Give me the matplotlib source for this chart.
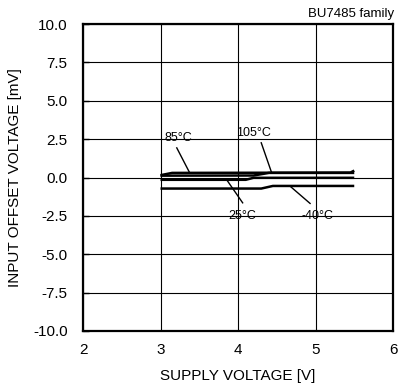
import matplotlib
matplotlib.use("Agg")
import matplotlib.pyplot as plt

plt.rcParams["font.family"] = ["Liberation Sans", "DejaVu Sans"]

# offset voltage vs supply voltage, one curve per temperature
vdd_85 = [3.0, 3.15, 5.45, 5.5]
vio_85 = [0.15, 0.30, 0.32, 0.45]
vdd_105 = [3.0, 4.2, 4.4, 5.5]
vio_105 = [0.12, 0.13, 0.30, 0.30]
vdd_25 = [3.0, 4.1, 4.2, 5.5]
vio_25 = [-0.15, -0.15, -0.02, -0.02]
vdd_m40 = [3.0, 4.3, 4.45, 5.5]
vio_m40 = [-0.72, -0.72, -0.55, -0.55]

xticks = [2, 3, 4, 5, 6]
yticks = [-10.0, -7.5, -5.0, -2.5, 0.0, 2.5, 5.0, 7.5, 10.0]

fig = plt.figure(figsize=(3.98, 3.89), dpi=100)
ax = fig.add_axes([83 / 398, 1 - 331 / 389, 310 / 398, 307 / 389])

for x, y in [(vdd_85, vio_85), (vdd_105, vio_105), (vdd_25, vio_25), (vdd_m40, vio_m40)]:
    ax.plot(x, y, color="black", lw=1.8, solid_capstyle="butt", zorder=3)

ax.set_xlim(2, 6)
ax.set_ylim(-10, 10)
ax.set_xticks(xticks)
ax.set_yticks(yticks)
ax.set_yticklabels([f"{v:.1f}" for v in yticks])
ax.grid(True, color="black", lw=0.8)
ax.set_axisbelow(True)
for s in ax.spines.values():
    s.set_linewidth(1.6)
ax.tick_params(axis="y", direction="in", length=4, width=1, labelsize=11, pad=11)
ax.tick_params(axis="x", length=0, labelsize=11, pad=9)

ax.set_xlabel("SUPPLY VOLTAGE [V]", fontsize=11, labelpad=8)
ax.set_ylabel("INPUT OFFSET VOLTAGE [mV]", fontsize=11, labelpad=8)
fig.text(394 / 398, 1 - 17 / 389, "BU7485 family", ha="right", va="baseline", fontsize=9.5)

# temperature labels with leader lines
notes = [
    ("85°C", (3.23, 2.6), (3.21, 1.93), (3.37, 0.37)),
    ("105°C", (4.20, 2.9), (4.30, 2.26), (4.43, 0.37)),
    ("25°C", (4.06, -2.5), (4.06, -1.65), (3.85, -0.12)),
    ("-40°C", (5.03, -2.5), (4.93, -1.69), (4.68, -0.6)),
]
for label, txt, p0, p1 in notes:
    ax.text(txt[0], txt[1], label, ha="center", va="center", fontsize=9, zorder=4)
    ax.plot([p0[0], p1[0]], [p0[1], p1[1]], color="black", lw=1, zorder=4)

fig.savefig("out.png", dpi=100)
